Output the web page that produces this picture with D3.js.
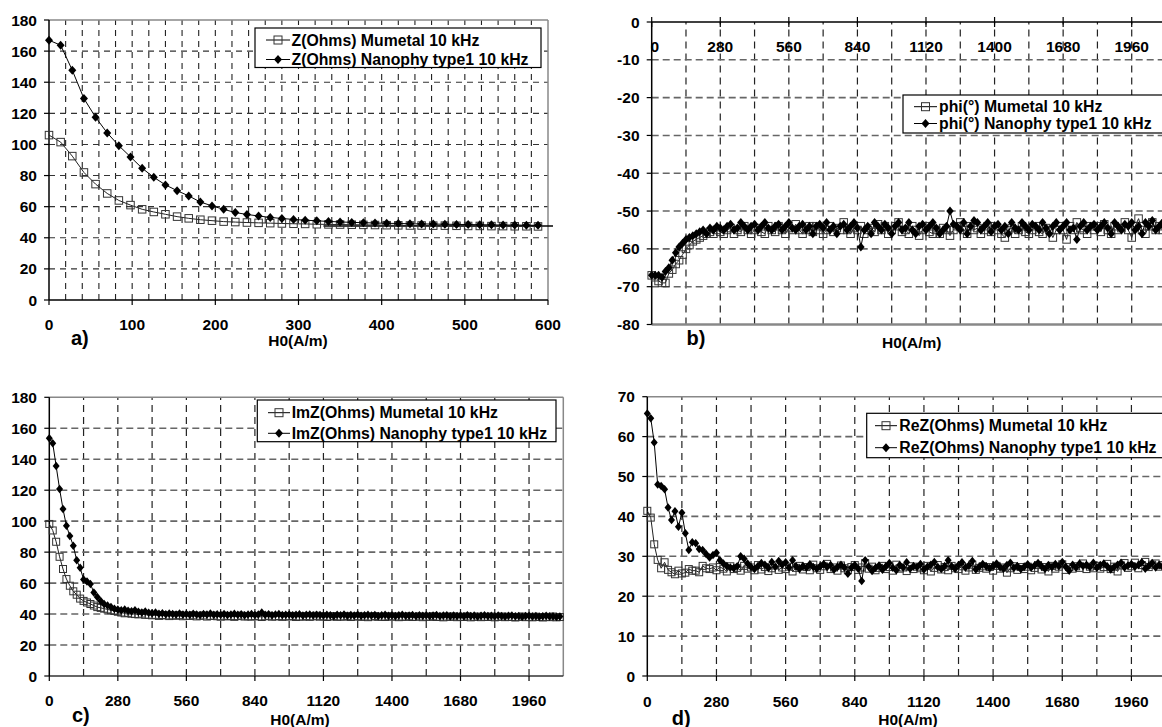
<!DOCTYPE html>
<html><head><meta charset="utf-8">
<script src="https://cdn.jsdelivr.net/npm/d3@7"></script>
<style>
html,body{margin:0;padding:0;background:#fff;}
svg{display:block;font-family:"Liberation Sans",Arial,sans-serif;font-weight:bold;}
</style></head>
<body>
<svg id="chart" width="1162" height="727"></svg>
<script>
// ---------- DATA ----------
const H_A = [0,14,28,42,56,70,84,98,112,126,140,154,168,182,196,210,224,238,252,266,280,294,308,322,336,350,364,378,392,406,420,434,448,462,476,490,504,518,532,546,560,574,588];
const zMumetal = [106,101.5,92.5,82,74.5,68.5,64,61,58.3,56.6,55.1,53.6,52.5,51.6,51,50.4,50.1,49.8,49.6,49.4,49.2,49.0,48.9,48.7,48.6,48.5,48.4,48.3,48.2,48.1,48.0,47.9,47.9,47.8,47.8,47.7,47.6,47.6,47.5,47.5,47.4,47.4,47.3];
const zNanophy = [167,163.8,147.7,129.5,117.5,107.4,99.2,92,84.7,78.9,74,70.3,66.9,63,60.5,58.3,56.2,55,54,53.1,52.4,51.8,51.3,50.9,50.5,50.2,49.9,49.7,49.5,49.3,49.2,49.0,48.9,48.8,48.7,48.6,48.5,48.4,48.3,48.2,48.2,48.1,48.0];
const zMumetalTail = {value: 47.6, from: 330, to: 606};

const H_LONG = [0,14,28,42,56,70,84,98,112,126,140,154,168,182,196,210,224,238,252,266,280,294,308,322,336,350,364,378,392,406,420,434,448,462,476,490,504,518,532,546,560,574,588,602,616,630,644,658,672,686,700,714,728,742,756,770,784,798,812,826,840,854,868,882,896,910,924,938,952,966,980,994,1008,1022,1036,1050,1064,1078,1092,1106,1120,1134,1148,1162,1176,1190,1204,1218,1232,1246,1260,1274,1288,1302,1316,1330,1344,1358,1372,1386,1400,1414,1428,1442,1456,1470,1484,1498,1512,1526,1540,1554,1568,1582,1596,1610,1624,1638,1652,1666,1680,1694,1708,1722,1736,1750,1764,1778,1792,1806,1820,1834,1848,1862,1876,1890,1904,1918,1932,1946,1960,1974,1988,2002,2016,2030,2044,2058,2072,2086];

const phiMumetal = [
-67,-67.5,-68.5,-69,-69,-66.5,-65.5,-64,-63,-61.5,
-60,-59,-58,-57.5,-57,-56.5,-56,-55.5,-56,-55,
-55.5,-56,-55,-54.5,-56,-55,-55.5,-54,-55,-56,
-55,-54.5,-55.5,-56,-54,-55,-55.5,-54,-55,-56,
-54.5,-55,-53.5,-55,-56,-55,-54,-55.5,-54,-55,
-56,-55,-54,-55.5,-54.5,-55,-53,-55,-56,-54.5,
-55,-54,-56,-55,-54.5,-55.5,-53.5,-55,-54,-56,
-55,-54,-53,-55.5,-55,-56,-54,-55,-56.5,-55,
-54,-55.5,-56,-55,-56,-54.5,-55,-56.5,-55,-54,
-53,-55,-56,-54,-55,-54.5,-56,-55,-54,-55.5,
-54,-55,-56,-57,-55,-54.5,-56,-55,-54,-55.5,
-56,-55,-54,-55.5,-56,-54.5,-55,-57,-55,-54,
-55,-57.5,-54,-55,-53,-54.5,-55,-56,-54,-55,
-54,-55.5,-53.5,-55,-56,-54,-55,-54.5,-53,-55,
-57,-54,-52,-55,-56,-54,-53,-55,-54,-55];
const phiNanophy = [
-67,-67,-67,-67.5,-66,-65,-63,-61,-59.5,-58.5,
-57.5,-57,-56.5,-56,-55.5,-55,-56,-54.5,-55,-54,
-54.5,-55,-54,-53.5,-55,-54.5,-53,-54,-55,-54,
-53.5,-55,-54,-53,-54.5,-55,-54,-53.5,-55,-54,
-53,-54.5,-55,-54,-53.5,-55,-54,-56,-54,-53.5,
-54.5,-53,-55,-54,-56,-54,-53.5,-55,-54,-53,
-54.5,-59.5,-55,-54,-56,-53,-54,-55,-53.5,-54.5,
-56,-54,-53,-55,-54.5,-53,-55,-56,-54,-53.5,
-55,-54,-53,-54.5,-56,-55,-54,-50,-53.5,-54,
-55,-53,-56,-54,-52.5,-53,-55,-54,-53,-55.5,
-54,-53.5,-55,-54,-56,-53,-54.5,-55,-53,-54,
-55,-53.5,-54,-55,-53,-54.5,-56,-54,-53,-55,
-54,-53,-55,-54.5,-57.5,-54,-53,-55,-54,-53.5,
-55,-54,-53,-54.5,-56,-53,-54,-55,-53.5,-54,
-53,-55,-54,-56,-53,-54,-52.5,-55,-54,-53];

const imzMumetal = [
98.2,94,86.7,77,69.1,62.6,58.3,54.7,52.5,50,
48.5,47.5,46.5,45.5,44.5,44,43.5,43,42.5,42,
41.5,41,40.5,40.8,40.2,40,39.8,40.3,39.5,39.6,
39.2,39.5,38.8,39.4,39.1,38.7,39.2,38.9,39.3,38.6,
39,38.8,39.2,38.5,38.9,39.1,38.4,38.8,39,38.6,
38.3,38.9,38.5,38.8,38.2,38.7,39,38.4,38.6,38.3,
38.8,38.5,38.1,38.6,38.9,38.3,38.5,38.7,38.2,38.6,
38.4,38.8,38.1,38.5,38.3,38.7,38.2,38.5,38.9,38.3,
38.6,38.1,38.4,38.7,38.2,38.5,38.3,38.8,38.1,38.4,
38.6,38.2,38.5,38,38.4,38.7,38.2,38.4,38.1,38.6,
38.3,38.5,38,38.4,38.2,38.6,38.1,38.3,38.5,38,
38.4,38.2,38.6,38.1,38.3,37.9,38.4,38.2,38.5,38,
38.3,38.1,38.5,37.9,38.2,38.4,38,38.3,38.1,38.4,
37.9,38.2,38.4,38,38.3,38.1,37.8,38.2,38.4,38,
38.2,37.9,38.3,38.1,37.8,38.2,38,38.4,37.9,38.1];
const imzNanophy = [
153.5,150.3,135.6,120.8,107.8,97,90.4,84.2,74.7,69.9,
62.4,61.1,59.4,54,51,48.5,46.5,45.5,44.5,43.5,
43,42.5,43,42.2,41.8,42.4,41.5,41,41.6,40.8,
40.5,41,40.2,40.6,39.9,40.4,40.1,39.7,40.3,39.8,
40.1,39.6,40.2,39.8,39.4,40,39.7,40.3,39.5,39.9,
39.6,40.1,39.4,39.8,40.2,39.5,39.9,39.3,39.7,40,
39.4,39.8,41,39.5,39.9,39.2,39.7,40,39.4,39.6,
39.8,39.3,39.6,39.9,39.1,39.5,39.8,39.2,39.6,39.4,
39.1,39.6,39.3,38.8,39.5,39.2,39.7,38.9,39.4,39.1,
39.5,38.9,39.3,39.6,39,39.4,38.8,39.2,39.5,38.9,
39.3,38.8,39.2,39.5,38.9,39.1,39.4,38.7,39.2,38.9,
39.2,38.7,39.1,39.4,38.8,39,39.3,38.6,39.1,38.8,
39,38.6,39.2,38.8,39.1,38.5,38.9,39.2,38.7,38.9,
38.6,39,38.8,38.4,38.9,39.1,38.6,38.8,38.3,38.7,
38.9,38.5,38.7,38.2,38.6,38.9,38.4,38.6,38.1,38.5];

const rezMumetal = [
41.4,39.7,33,29.1,27,28.5,26.6,26,25.5,26.4,
25.7,25.9,26.8,26.4,26.4,26,27.6,27,26.8,27.2,
26.5,27.3,26.9,26.2,27.5,26.8,27.1,26.4,27.6,26.9,
27.2,26.5,27.8,26.7,27.3,26.3,27,27.7,26.6,27.2,
26.8,27.4,26.2,27.1,27.6,26.7,27.3,26.5,27.9,27,
26.6,27.5,28.1,26.8,27.2,26.4,27.7,27,26.5,27.3,
27.8,26.6,27.2,28.3,26.9,27.4,26.5,27.1,27.6,26.8,
27.3,26.4,27.9,26.9,27.2,26.3,27.5,26.8,27.4,27,
26.5,27.6,26.2,27.1,27.8,26.7,27.3,26.5,27.6,27,
26.8,27.5,26.4,27.2,27.9,26.6,27.1,27.5,26.9,27.3,
26.4,27.6,26.9,27.2,25.9,27,27.5,26.6,27.3,26.8,
27.4,26.5,27.1,27.8,26.7,27.3,26.2,27.6,26.9,27.4,
28,26.6,27.3,26.9,27.5,27.1,28.2,26.8,27.4,27,
27.6,26.9,27.3,28.1,26.8,27.4,26.2,27.7,28.3,27.1,
27.5,28.4,27,27.8,28.6,27.3,27.9,28.2,27.4,27.8];
const rezNanophy = [
65.8,64.6,58.5,48,47.6,46.8,42.2,39.1,41.3,37.4,
40.9,35.8,31.6,33.5,33.3,31.8,31.6,30.6,29.7,30.3,
30.9,29,28.2,27.6,27.2,27,27.5,30,29.4,28.2,
27.3,26.8,27.6,28.3,27.9,27.1,28.6,27.4,28.8,27.9,
28.5,27.2,29,27.5,26.8,27.6,27.1,28,27.3,26.9,
27.5,28.1,27.3,27.8,26.7,27.4,27.9,27.2,25.6,27.1,
27.8,26.9,23.8,29,27.4,26.3,27.1,27.7,26.6,27.5,
28.3,27.1,26.5,27.8,27.2,28.5,26.9,27.6,27.3,28.1,
26.7,27.4,27.9,28.6,27.3,26.8,27.6,29,27.5,26.9,
27.8,28.5,27.2,27.7,28.8,26.7,27.4,28.1,27.5,27,
27.6,28.2,27.3,26.9,27.8,28.4,27.1,27.6,26.8,27.4,
28,27.2,27.7,28.3,27.5,26.9,27.8,27.3,28.1,27.5,
28.6,27.4,26.4,27.9,27.2,28.2,27.6,27.9,27.3,28.4,
27.1,27.8,28.2,27.5,26.7,27.3,27.9,28.4,27.2,27.7,
28.1,27.4,27.8,28.5,26.9,27.6,28.3,27.2,27.8,27.4];

// tick labels
const ticksA_x = [0,100,200,300,400,500,600];
const ticksA_y = [0,20,40,60,80,100,120,140,160,180];
const ticksLong_x = [0,280,560,840,1120,1400,1680,1960];
const ticksB_y = [0,-10,-20,-30,-40,-50,-60,-70,-80];
const ticksC_y = [0,20,40,60,80,100,120,140,160,180];
const ticksD_y = [0,10,20,30,40,50,60,70];

const legendA = ["Z(Ohms) Mumetal 10 kHz","Z(Ohms) Nanophy type1 10 kHz"];
const legendB = ["phi(°) Mumetal 10 kHz","phi(°) Nanophy type1 10 kHz"];
const legendC = ["ImZ(Ohms) Mumetal 10 kHz","ImZ(Ohms) Nanophy type1 10 kHz"];
const legendD = ["ReZ(Ohms) Mumetal 10 kHz","ReZ(Ohms) Nanophy type1 10 kHz"];
const panelTags = ["a)","b)","c)","d)"];
const xTitle = "H0(A/m)";

// ---------- DRAW ----------
const svg = d3.select("#chart");

function diamondPath(w,h){return `M0,${-h/2}L${w/2},0L0,${h/2}L${-w/2},0Z`;}

function panel(o){
  const x = d3.scaleLinear().domain(o.xDomain).range([o.x0,o.x1]);
  const y = d3.scaleLinear().domain(o.yDomain).range([o.yB,o.yT]);
  const g = svg.append("g");
  const yLo=o.yDomain[0], yHi=o.yDomain[1];
  // vertical grid
  g.append("g").selectAll("line").data(d3.range(o.xGridStep,o.xDomain[1],o.xGridStep)).join("line")
    .attr("x1",d=>x(d)).attr("x2",d=>x(d)).attr("y1",y(yLo)).attr("y2",y(yHi))
    .attr("stroke",o.vGridColor).attr("stroke-width",o.vGridW).attr("stroke-dasharray",o.vDash);
  // horizontal grid
  g.append("g").selectAll("line").data(o.yTicks.filter(d=>d!==yLo&&d!==yHi&&d!==o.xAxisAt)).join("line")
    .attr("x1",x(0)).attr("x2",x(o.xDomain[1])).attr("y1",d=>y(d)).attr("y2",d=>y(d))
    .attr("stroke",o.hGridColor).attr("stroke-width",o.hGridW).attr("stroke-dasharray",o.hDash);
  // border (gray)
  const edgeY = o.xAxisAt===yLo ? yHi : yLo;
  g.append("line").attr("x1",x(0)).attr("x2",x(o.xDomain[1])).attr("y1",y(edgeY)).attr("y2",y(edgeY))
    .attr("stroke","#888").attr("stroke-width",o.edgeW||1.5);
  g.append("line").attr("x1",x(o.xDomain[1])).attr("x2",x(o.xDomain[1])).attr("y1",y(yLo)).attr("y2",y(yHi))
    .attr("stroke","#888").attr("stroke-width",1.5);
  // x axis line
  g.append("line").attr("x1",x(0)).attr("x2",x(o.xDomain[1])).attr("y1",y(o.xAxisAt)).attr("y2",y(o.xAxisAt))
    .attr("stroke",o.xAxisColor).attr("stroke-width",1.5);
  // y axis
  g.append("line").attr("x1",x(0)).attr("x2",x(0)).attr("y1",y(yLo)).attr("y2",y(yHi))
    .attr("stroke","#000").attr("stroke-width",1.5);
  g.append("g").selectAll("line").data(o.yTicks).join("line")
    .attr("x1",x(0)-5).attr("x2",x(0)).attr("y1",d=>y(d)).attr("y2",d=>y(d)).attr("stroke","#000").attr("stroke-width",1.2);
  g.append("g").selectAll("text").data(o.yTicks).join("text")
    .attr("x",o.yLabelRight).attr("y",d=>y(d)+5.5).attr("text-anchor","end")
    .attr("font-size",15.5).text(d=>d);
  // x ticks
  const tdir = o.xTickDir;
  g.append("g").selectAll("line").data(o.xTicks).join("line")
    .attr("x1",d=>x(d)).attr("x2",d=>x(d)).attr("y1",y(o.xAxisAt)-(tdir<0?5:0)).attr("y2",y(o.xAxisAt)+5)
    .attr("stroke","#000").attr("stroke-width",1.2);
  g.append("g").selectAll("text").data(o.xTicks).join("text")
    .attr("x",d=>x(d)+(d===0?o.zeroShift:0)).attr("y",o.xLabelY).attr("text-anchor","middle")
    .attr("font-size",15.5).text(d=>d);
  // titles
  g.append("text").attr("x",o.tagX).attr("y",o.tagY).attr("font-size",20).text(o.tag);
  g.append("text").attr("x",o.titleX).attr("y",o.titleY).attr("text-anchor","middle").attr("font-size",15.5).text(xTitle);

  // series
  const line = d3.line().x((d,i)=>x(o.H[i])).y(d=>y(d));
  if(o.tail){
    g.append("line").attr("x1",x(o.tail.from)).attr("x2",x(o.tail.to)).attr("y1",y(o.tail.value)).attr("y2",y(o.tail.value))
      .attr("stroke","#000").attr("stroke-width",1.6);
  }
  g.append("path").attr("d",line(o.s1)).attr("fill","none").attr("stroke","#222").attr("stroke-width",1);
  g.append("g").selectAll("rect").data(o.s1).join("rect")
    .attr("x",(d,i)=>x(o.H[i])-o.sq/2).attr("y",d=>y(d)-o.sq/2).attr("width",o.sq).attr("height",o.sq)
    .attr("fill","none").attr("stroke","#333").attr("stroke-width",1);
  g.append("path").attr("d",line(o.s2)).attr("fill","none").attr("stroke","#000").attr("stroke-width",1);
  g.append("g").selectAll("path").data(o.s2).join("path")
    .attr("transform",(d,i)=>`translate(${x(o.H[i])},${y(d)})`).attr("d",diamondPath(o.dw,o.dh)).attr("fill","#000");

  // legend
  const L = o.legend;
  const lg = svg.append("g");
  lg.append("rect").attr("x",L.x).attr("y",L.y).attr("width",L.w).attr("height",L.h)
    .attr("fill","#fff").attr("stroke","#000").attr("stroke-width",1.2);
  o.legendLabels.forEach((lab,i)=>{
    const ry = L.rows[i];
    lg.append("line").attr("x1",L.lx1).attr("x2",L.lx2).attr("y1",ry).attr("y2",ry).attr("stroke","#000").attr("stroke-width",1);
    if(i===0){
      lg.append("rect").attr("x",(L.lx1+L.lx2)/2-4).attr("y",ry-4).attr("width",8).attr("height",8)
        .attr("fill","none").attr("stroke","#333").attr("stroke-width",1);
    } else {
      lg.append("path").attr("transform",`translate(${(L.lx1+L.lx2)/2},${ry})`).attr("d",diamondPath(8,9)).attr("fill","#000");
    }
    lg.append("text").attr("x",L.tx).attr("y",ry+5.7).attr("font-size",15.8).text(lab);
  });
}

// Panel a
panel({xDomain:[0,600], yDomain:[0,180], x0:49, x1:548, yB:300, yT:20,
  xGridStep:20, yTicks:ticksA_y, xTicks:ticksA_x, xAxisAt:0, xTickDir:1,
  vGridColor:"#222", vGridW:1.1, vDash:"6,5", hGridColor:"#333", hGridW:1.1, hDash:"6,5",
  xAxisColor:"#000", yLabelRight:37, xLabelY:329.5, zeroShift:0,
  tag:panelTags[0], tagX:71, tagY:345, titleX:298, titleY:346,
  H:H_A, s1:zMumetal, s2:zNanophy, sq:7.5, dw:8, dh:9, tail:zMumetalTail,
  legendLabels:legendA,
  legend:{x:255,y:28,w:286,h:39.5,lx1:266,lx2:290,tx:291.5,rows:[40,59.5]}});

// Panel b
panel({xDomain:[0,2100], yDomain:[-80,0], x0:651.7, x1:1166, yB:324.5, yT:22,
  xGridStep:140, yTicks:ticksB_y, xTicks:ticksLong_x, xAxisAt:0, xTickDir:-1,
  vGridColor:"#222", vGridW:1.2, vDash:"7,5", hGridColor:"#666", hGridW:1.6, hDash:"7,4",
  xAxisColor:"#000", yLabelRight:639.5, xLabelY:51.7, zeroShift:3, edgeW:2.5,
  tag:panelTags[1], tagX:686.5, tagY:345, titleX:911.7, titleY:348,
  H:H_LONG, s1:phiMumetal, s2:phiNanophy, sq:7.5, dw:7.5, dh:9,
  legendLabels:legendB,
  legend:{x:903,y:95,w:270,h:38,lx1:914,lx2:937,tx:939,rows:[106.7,123.5]}});

// Panel c
panel({xDomain:[0,2100], yDomain:[0,180], x0:49.3, x1:563.3, yB:676, yT:397.3,
  xGridStep:140, yTicks:ticksC_y, xTicks:ticksLong_x, xAxisAt:0, xTickDir:1,
  vGridColor:"#222", vGridW:1.2, vDash:"7,5", hGridColor:"#666", hGridW:1.6, hDash:"7,4",
  xAxisColor:"#333", yLabelRight:37, xLabelY:706, zeroShift:0,
  tag:panelTags[2], tagX:72, tagY:721.5, titleX:300, titleY:725,
  H:H_LONG, s1:imzMumetal, s2:imzNanophy, sq:7, dw:7, dh:8.5,
  legendLabels:legendC,
  legend:{x:257.3,y:400,w:298.7,h:41.7,lx1:268,lx2:290,tx:291.7,rows:[412.7,433.3]}});

// Panel d
panel({xDomain:[0,2100], yDomain:[0,70], x0:647.3, x1:1166, yB:676, yT:396.7,
  xGridStep:140, yTicks:ticksD_y, xTicks:ticksLong_x, xAxisAt:0, xTickDir:1,
  vGridColor:"#222", vGridW:1.2, vDash:"7,5", hGridColor:"#666", hGridW:1.6, hDash:"7,4",
  xAxisColor:"#333", yLabelRight:635, xLabelY:706.5, zeroShift:0,
  tag:panelTags[3], tagX:671.7, tagY:724.5, titleX:908, titleY:725,
  H:H_LONG, s1:rezMumetal, s2:rezNanophy, sq:7, dw:7, dh:8.5,
  legendLabels:legendD,
  legend:{x:866.7,y:413.3,w:310,h:44.4,lx1:875,lx2:897,tx:899.3,rows:[425.7,447.7]}});
</script>
</body></html>
